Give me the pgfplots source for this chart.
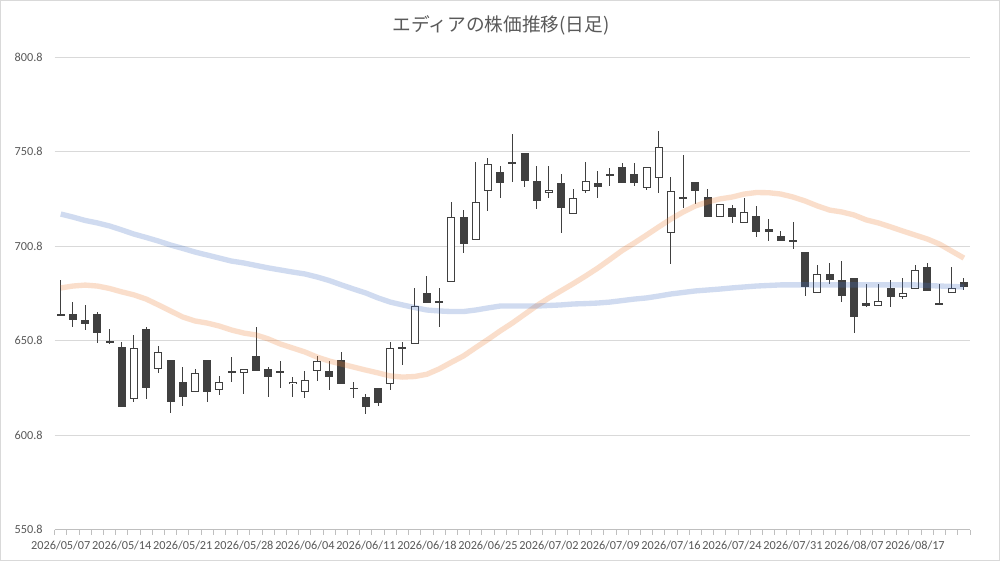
\documentclass[border=0pt]{standalone}
\usepackage{pgfplots}
\pgfplotsset{compat=1.18}
\usepackage{pgfplotstable}
\usepackage{fontspec}
\setmainfont{Carlito}
\newfontfamily\jp{Noto Sans CJK JP}
\definecolor{candle}{HTML}{404040}
\definecolor{axgrey}{HTML}{BFBFBF}
\definecolor{gridgrey}{HTML}{D9D9D9}
\definecolor{labgrey}{HTML}{595959}
\definecolor{maorange}{HTML}{ED7D31}
\definecolor{mablue}{HTML}{4472C4}
\pgfplotstableread{
i o h l c m1 m2
0 663.9 682.9 663.9 664.9 678.7 717.8
1 664.9 671.4 657.9 661.7 679.7 716.2
2 661.7 669.7 656.4 659.4 680.2 714.4
3 664.9 666.1 649.7 654.7 679.7 713.1
4 650.5 656.8 648.9 650.0 678.4 711.5
5 647.6 650.2 615.5 615.5 676.6 709.4
6 619.7 653.6 618.5 646.7 675.0 707.2
7 656.8 657.9 619.7 625.6 672.8 705.4
8 635.6 648.0 633.5 644.6 669.7 703.5
9 640.5 640.5 612.3 618.5 666.5 701.4
10 628.8 636.7 616.4 620.8 663.3 699.6
11 623.4 635.8 623.4 633.5 661.2 697.7
12 640.5 640.5 618.5 623.4 660.1 696.1
13 624.7 632.2 622.0 628.8 658.5 694.5
14 634.7 642.3 628.8 633.5 656.4 692.9
15 633.5 635.6 622.4 635.6 654.8 691.9
16 642.7 657.9 634.7 634.7 653.8 690.6
17 635.6 636.7 621.1 631.4 651.7 689.3
18 634.7 639.8 625.6 634.0 649.0 688.2
19 627.8 631.4 621.1 629.0 646.9 687.1
20 623.4 634.7 620.6 629.9 644.8 686.1
21 634.7 642.7 629.6 639.8 642.1 684.5
22 634.7 639.8 624.7 631.4 640.0 682.6
23 640.4 644.6 627.7 627.7 638.4 680.3
24 625.9 629.0 620.6 625.3 636.8 678.1
25 620.8 622.4 611.8 615.5 635.2 676.0
26 625.6 625.6 616.4 617.6 633.7 673.4
27 627.7 649.9 624.7 646.7 632.1 671.2
28 647.6 650.2 637.9 646.7 631.5 669.7
29 649.0 678.5 649.0 669.3 631.8 668.3
30 675.8 685.0 670.6 670.6 633.0 667.0
31 671.6 678.5 657.9 671.0 635.8 666.5
32 681.7 724.2 681.7 716.4 639.3 666.2
33 716.4 719.9 697.0 701.8 642.7 666.2
34 704.1 745.2 704.1 724.0 647.1 667.0
35 729.9 747.6 719.6 744.3 651.4 668.1
36 739.9 743.2 726.5 734.1 655.9 669.1
37 744.2 760.0 734.9 745.2 660.1 669.1
38 750.0 750.0 732.0 735.5 664.7 669.1
39 735.5 743.2 720.5 724.9 669.3 669.1
40 728.8 743.2 726.1 730.8 673.4 669.4
41 734.1 738.9 707.6 720.9 677.2 669.7
42 717.7 730.9 717.7 726.1 681.0 670.2
43 729.9 745.5 728.8 735.5 685.0 670.4
44 734.1 740.8 726.1 732.0 689.2 670.7
45 737.8 742.0 732.8 738.8 693.8 671.2
46 742.9 745.0 734.1 734.1 698.5 672.0
47 738.9 745.0 732.8 734.1 702.5 672.8
48 731.8 742.9 730.6 742.9 706.7 673.4
49 736.7 761.9 728.8 753.2 711.0 674.4
50 707.6 737.6 691.4 729.9 715.2 675.5
51 726.6 749.1 720.9 726.0 718.9 676.3
52 734.9 734.9 723.0 729.9 722.1 677.1
53 726.7 730.9 716.4 716.4 724.2 677.6
54 716.4 723.0 716.4 723.0 725.8 678.1
55 720.9 722.6 712.9 716.1 726.8 678.7
56 712.9 726.1 712.9 718.7 728.4 679.2
57 716.8 722.1 705.8 708.5 729.2 679.7
58 709.7 715.0 703.7 708.5 729.1 680.0
59 706.2 708.8 703.7 703.7 728.4 680.3
60 703.9 713.8 699.3 703.4 726.8 680.3
61 697.6 697.6 674.6 679.4 724.7 680.3
62 675.8 690.8 675.8 685.9 722.1 680.3
63 685.9 691.7 680.6 682.9 719.9 680.3
64 682.9 692.9 671.4 674.6 718.9 680.3
65 683.8 683.8 654.7 663.5 717.3 680.3
66 670.6 680.6 668.8 669.3 714.7 680.3
67 669.3 680.6 669.3 671.6 713.1 680.3
68 678.5 682.9 668.8 673.7 711.0 680.3
69 673.7 683.8 672.7 675.8 708.8 680.3
70 678.0 690.8 678.0 688.2 706.7 680.3
71 689.6 691.7 676.9 676.9 704.6 680.0
72 670.6 680.6 670.2 670.2 701.9 679.7
73 675.8 689.6 675.8 678.5 698.2 679.5
74 681.7 683.8 677.6 679.4 694.5 679.2
}\stock
\begin{document}
\begin{tikzpicture}
\useasboundingbox (0,0) rectangle (750pt,420.75pt);
\fill[white] (0,0) rectangle (750pt,420.75pt);
\draw[gridgrey, line width=0.75pt] (0.375pt,0.375pt) rectangle (749.625pt,420.375pt);
\node[font=\jp\fontsize{14}{16}\selectfont, text=labgrey] at (375.75pt,402pt) {エディアの株価推移(日足)};
\begin{axis}[
  at={(41pt,23.6pt)}, anchor=south west,
  scale only axis, width=686.5pt, height=354.2pt,
  xmin=-0.5, xmax=74.5, ymin=550.8, ymax=800.8,
  axis x line*=bottom, axis y line*=left,
  y axis line style={draw=none},
  x axis line style={draw=axgrey, line width=0.75pt},
  xtick={0,5,...,70},
  xticklabels={2026/05/07,2026/05/14,2026/05/21,2026/05/28,2026/06/04,2026/06/11,2026/06/18,2026/06/25,2026/07/02,2026/07/09,2026/07/16,2026/07/24,2026/07/31,2026/08/07,2026/08/17},
  ytick={550.8,600.8,650.8,700.8,750.8,800.8},
  yticklabels={550.8,600.8,650.8,700.8,750.8,800.8},
  major tick length=0pt,
  minor xtick={-0.5,0.5,...,74.5},
  minor tick length=3.75pt, tick align=outside,
  minor tick style={draw=axgrey, line width=0.75pt},
  ymajorgrids, grid style={draw=gridgrey, line width=0.75pt},
  tick label style={font=\fontsize{9.2}{10}\selectfont, text=labgrey},
  xticklabel style={yshift=-5pt},
  yticklabel style={xshift=-5.5pt},
]
% wicks
\addplot[draw=none, mark=none, forget plot,
  error bars/.cd, y dir=both, y explicit, error mark=none,
  error bar style={draw=candle, line width=0.75pt, solid}]
  table[x=i, y expr=(\thisrow{h}+\thisrow{l})/2, y error expr=(\thisrow{h}-\thisrow{l})/2] {\stock};
% bodies
\addplot[draw=none, mark=none, forget plot,
  error bars/.cd, y dir=both, y explicit, error mark=none,
  error bar style={draw=candle, line width=6pt, solid}]
  table[x=i, y expr=(\thisrow{o}+\thisrow{c})/2, y error expr={max(abs(\thisrow{c}-\thisrow{o})/2,0.35)}] {\stock};
% hollow interiors of rising candles
\addplot[draw=none, mark=none, forget plot, restrict x to domain=-1:80,
  error bars/.cd, y dir=both, y explicit, error mark=none,
  error bar style={draw=white, line width=4.5pt, solid}]
  table[x expr={\thisrow{c}>\thisrow{o} ? \thisrow{i} : -100}, y expr=(\thisrow{o}+\thisrow{c})/2, y error expr={max((\thisrow{c}-\thisrow{o})/2-0.53,0)}] {\stock};
% moving averages
\addplot[maorange, opacity=0.25, line width=4pt, mark=none] table[x=i, y=m1] {\stock};
\addplot[mablue, opacity=0.25, line width=4pt, mark=none] table[x=i, y=m2] {\stock};
\end{axis}
\end{tikzpicture}
\end{document}
